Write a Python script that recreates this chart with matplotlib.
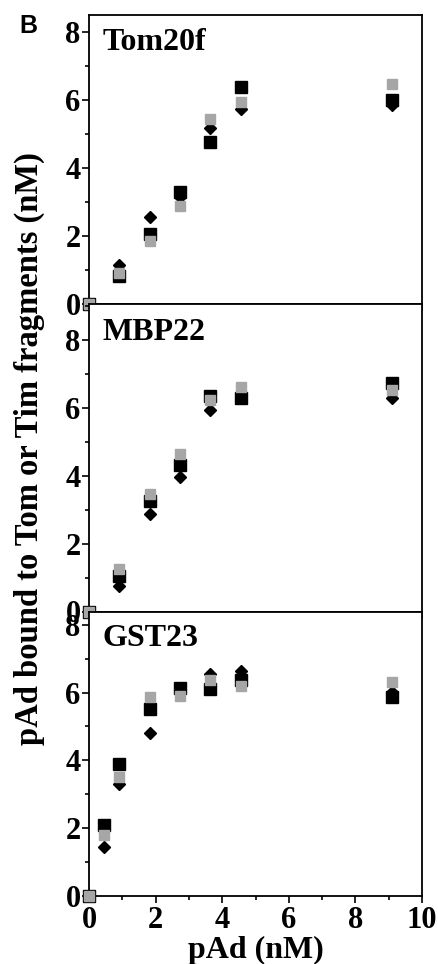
import matplotlib.pyplot as plt
from matplotlib.ticker import MultipleLocator

# pAd added (nM)
x_tom = [0, 0.91, 1.82, 2.73, 3.64, 4.55, 9.1]
x_mbp = [0, 0.91, 1.82, 2.73, 3.64, 4.55, 9.1]
x_gst = [0, 0.46, 0.91, 1.82, 2.73, 3.64, 4.55, 9.1]

# pAd bound (nM), three series per panel
tom_square = [0, 0.82, 2.07, 3.29, 4.76, 6.37, 6.00]
tom_diamond = [0, 1.16, 2.55, 3.13, 5.18, 5.74, 5.86]
tom_gray = [0, 0.92, 1.86, 2.87, 5.44, 5.93, 6.45]

mbp_square = [0, 1.04, 3.27, 4.32, 6.36, 6.29, 6.73]
mbp_diamond = [0, 0.74, 2.89, 3.98, 5.94, 6.35, 6.29]
mbp_gray = [0, 1.24, 3.47, 4.65, 6.24, 6.63, 6.53]

gst_square = [0, 2.09, 3.89, 5.50, 6.12, 6.10, 6.37, 5.87]
gst_diamond = [0, 1.44, 3.29, 4.80, 6.05, 6.55, 6.65, 6.02]
gst_gray = [0, 1.79, 3.50, 5.87, 5.90, 6.37, 6.18, 6.30]

panels = [
    ("Tom20f", x_tom, tom_square, tom_diamond, tom_gray, 8.49),
    ("MBP22", x_mbp, mbp_square, mbp_diamond, mbp_gray, 9.07),
    ("GST23", x_gst, gst_square, gst_diamond, gst_gray, 8.39),
]

plt.rcParams["font.family"] = ["Liberation Serif", "DejaVu Serif"]
plt.rcParams["font.weight"] = "bold"

fig = plt.figure(figsize=(4.38, 9.64), dpi=100)

# axes boxes in pixels (top, bottom) measured on the reference
boxes = [(15, 304), (304, 611.5), (611.5, 896)]
left, width = 89 / 438, 333 / 438

for (name, x, sq, dia, gray, ytop), (top, bottom) in zip(panels, boxes):
    ax = fig.add_axes([left, 1 - bottom / 964, width, (bottom - top) / 964])
    ax.plot(x, dia, "D", color="black", markersize=6.6, clip_on=False, zorder=3)
    ax.plot(x, sq, "s", color="black", markersize=8.6, clip_on=False, zorder=4)
    ax.plot(x, gray, "s", color="#a6a6a6", markersize=7.2, clip_on=False, zorder=5)
    ax.set_xlim(0, 10)
    ax.set_ylim(0, ytop)
    ax.xaxis.set_major_locator(MultipleLocator(2))
    ax.xaxis.set_minor_locator(MultipleLocator(1))
    ax.yaxis.set_major_locator(MultipleLocator(2))
    ax.yaxis.set_minor_locator(MultipleLocator(1))
    ax.tick_params(which="both", direction="out", top=False, right=False,
                   width=1.2, labelsize=22, pad=1)
    ax.tick_params(which="major", length=5)
    ax.tick_params(which="minor", length=3)
    for side in ax.spines.values():
        side.set_linewidth(1.3)
    ax.text(0.04, 0.955, name, transform=ax.transAxes, ha="left", va="top",
            fontsize=23, fontweight="bold")
    if name != "GST23":
        ax.tick_params(axis="x", labelbottom=False)
    else:
        ax.tick_params(axis="x", pad=2)
        ax.set_xlabel("pAd (nM)", fontsize=23, fontweight="bold", labelpad=1)

fig.text(0.066, 0.535, "pAd bound to Tom or Tim fragments (nM)", rotation=90,
         ha="center", va="center", fontsize=23.5, fontweight="bold")
fig.text(0.065, 0.985, "B", ha="center", va="top", fontsize=18, fontweight="bold",
         family="Liberation Sans")

fig.savefig("out.png", dpi=100)
